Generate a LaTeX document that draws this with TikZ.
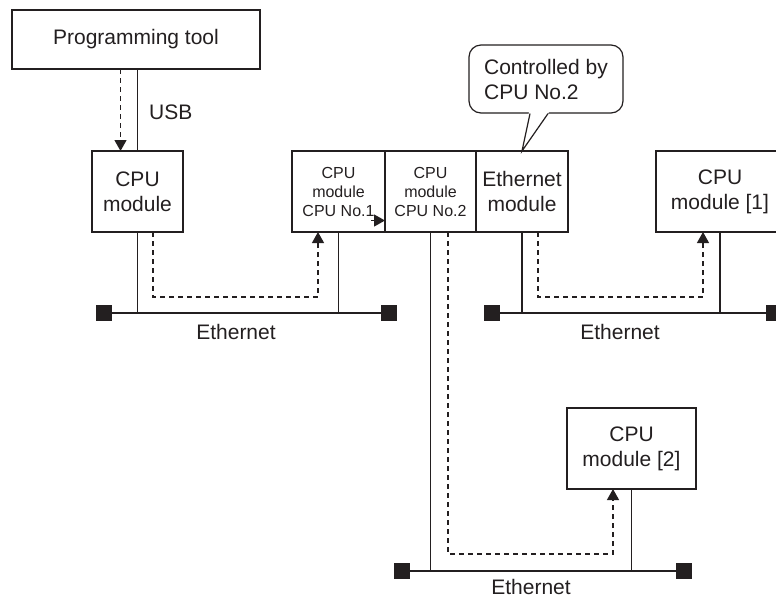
\documentclass[tikz,border=0pt]{standalone}
\usepackage{fontspec}
\setmainfont{Liberation Sans}
\usetikzlibrary{positioning, arrows.meta, calc}
\definecolor{ink}{HTML}{231F20}
\tikzset{
  unit box/.style={
    draw=ink,
    line width=1.2pt,
    outer sep=0pt,
    inner sep=2pt,
    align=center,
    minimum height=81pt,
    text=ink,
    font=\fontsize{21}{25}\selectfont
  },
  small box/.style={
    unit box,
    font=\fontsize{16}{19}\selectfont
  },
  wire/.style={draw=ink, line width=1.2pt},
  flow/.style={
    draw=ink, line width=1.2pt,
    dash pattern=on 5pt off 4pt,
    -{Triangle[length=11pt, width=12pt]}
  },
  bus end/.style={fill=ink, minimum size=16pt, inner sep=0pt, outer sep=0pt},
  lbl/.style={font=\fontsize{21}{25}\selectfont, text=ink, inner sep=0pt},
  note/.style={
    draw=ink, line width=1.2pt, fill=white,
    rounded corners=12pt,
    align=left, text=ink,
    font=\fontsize{21}{25}\selectfont
  }
}

\begin{document}
\begin{tikzpicture}[x=1pt, y=-1pt]
  \useasboundingbox (0,0) rectangle (776,598);
  \clip (0,0) rectangle (776,598);

  % modules
  \node[unit box, minimum width=248pt, minimum height=59pt] (tool) at (136,39.5) {Programming tool};
  \node[unit box, minimum width=91pt] (cpu) at (137.5,191.5) {CPU\\module};
  \node[small box, minimum width=93pt] (cpu1) at (338.5,191.5) {CPU\\module\\CPU No.1\hspace{4pt}};
  \node[small box, minimum width=91pt, right=0pt of cpu1] (cpu2) {CPU\\module\\CPU No.2};
  \node[unit box, minimum width=92pt, right=0pt of cpu2] (eth) {Ethernet\\module};
  \node[unit box, minimum width=128pt] (rcpu1) at (720,191.5) {CPU\\module [1]};
  \node[unit box, minimum width=129pt] (rcpu2) at (631.5,448.5) {CPU\\module [2]};

  % callout
  \node[note, minimum width=154pt, minimum height=68pt] (ctrl) at (546,79) {Controlled by\\CPU No.2};
  \fill[white] ([xshift=-17,yshift=1.5]ctrl.south) -- (eth.north) -- ([xshift=3,yshift=1.5]ctrl.south) -- cycle;
  \draw[wire] ([xshift=-16]ctrl.south) -- (eth.north) -- ([xshift=2]ctrl.south);

  % ethernet lines
  \node[bus end] (b1l) at (104,313) {};
  \node[bus end] (b1r) at (389,313) {};
  \node[bus end] (b2l) at (492,313) {};
  \node[bus end] (b2r) at (774,313) {};
  \node[bus end] (b3l) at (402,571) {};
  \node[bus end] (b3r) at (684,571) {};
  \draw[wire] (b1l) -- (b1r);
  \draw[wire] (b2l) -- (b2r);
  \draw[wire] (b3l) -- (b3r);
  \node[lbl] (net1) at (236,332) {Ethernet};
  \node[lbl] (net2) at (620,332) {Ethernet};
  \node[lbl] (net3) at (531,587) {Ethernet};

  % USB
  \draw[wire] (tool.south -| cpu.north) -- (cpu.north);
  \draw[flow] ([xshift=-17]cpu.north |- tool.south) -- ([xshift=-17]cpu.north);
  \node[lbl, anchor=west] (usb) at (149,112) {USB};

  % drops and data paths
  \draw[wire] (cpu.south) -- (cpu.south |- b1l);
  \draw[wire] (cpu1.south) -- (cpu1.south |- b1r);
  \draw[flow] ([xshift=15.5]cpu.south) -- ++(0,65) -| ([xshift=-20.5]cpu1.south);
  \draw[flow] ([xshift=-14,yshift=-29]cpu1.east) -- ([yshift=-29]cpu2.west);
  \draw[wire] (cpu2.south) -- (cpu2.south |- b3l);
  \draw[wire] (rcpu2.south) -- (rcpu2.south |- b3r);
  \draw[flow] ([xshift=17.5]cpu2.south) -- ++(0,322) -| ([xshift=-18.5]rcpu2.south);
  \draw[wire] (eth.south) -- (eth.south |- b2l);
  \draw[wire] (rcpu1.south) -- (rcpu1.south |- b2r);
  \draw[flow] ([xshift=16]eth.south) -- ++(0,65) -| ([xshift=-17]rcpu1.south);
\end{tikzpicture}
\end{document}
